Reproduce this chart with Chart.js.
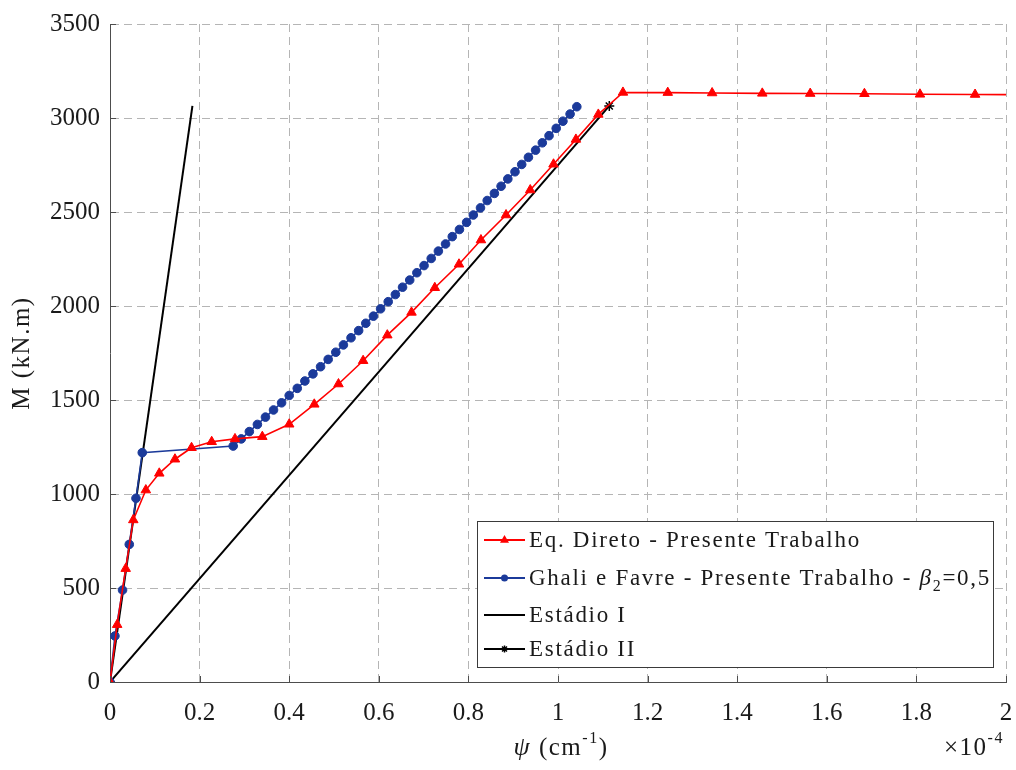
<!DOCTYPE html>
<html>
<head>
<meta charset="utf-8">
<script src="https://cdn.jsdelivr.net/npm/chart.js@4.4.1/dist/chart.umd.min.js"></script>
<style>
  html, body { margin: 0; background: #fff; }
  #wrap { width: 1016px; height: 770px; position: relative; }
</style>
</head>
<body>
<div id="wrap"><canvas id="c"></canvas></div>
<script>
  // curvature psi (x1e-4 cm^-1) vs. moment M (kN.m)
  const eqPsi = [0, 0.016, 0.035, 0.052, 0.080, 0.110, 0.145, 0.182, 0.227, 0.279, 0.340,
    0.400, 0.456, 0.510, 0.565, 0.619, 0.673, 0.725, 0.779, 0.828, 0.884, 0.938, 0.990,
    1.040, 1.090, 1.145, 1.245, 1.344, 1.456, 1.563, 1.684, 1.808, 1.931, 2.060];
  const eqM = [0, 305, 603, 862, 1021, 1110, 1185, 1246, 1278, 1293, 1305,
    1371, 1477, 1585, 1709, 1845, 1966, 2097, 2222, 2351, 2484, 2617, 2754,
    2886, 3019, 3136, 3135, 3133, 3131, 3130, 3129, 3126, 3125, 3124];

  const gfPsi = [0, 0.011, 0.028, 0.043, 0.058, 0.072,
    0.275, 0.293, 0.311, 0.329, 0.347, 0.365, 0.383, 0.400, 0.418, 0.435, 0.453, 0.470,
    0.487, 0.504, 0.521, 0.538, 0.555, 0.571, 0.588, 0.604, 0.621, 0.637, 0.653, 0.669,
    0.685, 0.701, 0.717, 0.733, 0.749, 0.764, 0.780, 0.796, 0.811, 0.827, 0.842, 0.858,
    0.873, 0.888, 0.904, 0.919, 0.934, 0.950, 0.965, 0.980, 0.996, 1.011, 1.027, 1.042];
  const gfM = [0, 245, 489, 732, 977, 1220,
    1255, 1293, 1332, 1370, 1409, 1447, 1485, 1524, 1562, 1601, 1639, 1677,
    1716, 1754, 1793, 1831, 1869, 1908, 1946, 1985, 2023, 2061, 2100, 2138,
    2177, 2215, 2253, 2292, 2330, 2369, 2407, 2445, 2484, 2522, 2561, 2599,
    2637, 2676, 2714, 2753, 2791, 2829, 2868, 2906, 2945, 2983, 3021, 3060];

  const e1Psi = [0, 0.184];
  const e1M = [0, 3064];
  const e2Psi = [0, 1.1145];
  const e2M = [0, 3064];

  const xTicks = [0, 0.2, 0.4, 0.6, 0.8, 1, 1.2, 1.4, 1.6, 1.8, 2];
  const yTicks = [0, 500, 1000, 1500, 2000, 2500, 3000, 3500];

  const RED = "#ff0000";
  const BLUE = "#1b3a9a";
  const BLACK = "#000000";
  const TXT = "#1a1a1a";
  const SERIF = "'Liberation Serif', 'Times New Roman', serif";

  const pts = (xs, ys) => xs.map((v, i) => ({ x: v, y: ys[i] }));

  // draw a run of text pieces left to right: {t, font, dy}
  function rich(ctx, parts, x, y) {
    parts.forEach((p) => {
      ctx.font = p.font;
      ctx.fillText(p.t, x, y + (p.dy || 0));
      x += ctx.measureText(p.t).width;
    });
    return x;
  }
  function richWidth(ctx, parts) {
    let w = 0;
    parts.forEach((p) => { ctx.font = p.font; w += ctx.measureText(p.t).width; });
    return w;
  }

  function marker(ctx, style, color, x, y, r) {
    ctx.save();
    ctx.fillStyle = color;
    ctx.strokeStyle = color;
    ctx.lineWidth = 1;
    if (style === "triangle") {
      ctx.beginPath();
      ctx.moveTo(x, y - r);
      ctx.lineTo(x + r * 0.9, y + r * 0.55);
      ctx.lineTo(x - r * 0.9, y + r * 0.55);
      ctx.closePath();
      ctx.fill();
    } else if (style === "circle") {
      ctx.beginPath();
      ctx.arc(x, y, r, 0, Math.PI * 2);
      ctx.fill();
    } else if (style === "star") {
      ctx.lineWidth = 1.5;
      ctx.beginPath();
      for (let k = 0; k < 4; k++) {
        const a = (k * Math.PI) / 4;
        ctx.moveTo(x - r * Math.cos(a), y - r * Math.sin(a));
        ctx.lineTo(x + r * Math.cos(a), y + r * Math.sin(a));
      }
      ctx.stroke();
    }
    ctx.restore();
  }

  // axis titles, inward ticks, exponent and the boxed legend
  const decor = {
    id: "decor",
    afterDraw(chart) {
      const { ctx, chartArea: a, scales: { x, y } } = chart;
      ctx.save();

      ctx.strokeStyle = "#4d4d4d";
      ctx.lineWidth = 1;
      ctx.beginPath();
      xTicks.forEach((v) => {
        const px = Math.round(x.getPixelForValue(v)) + 0.5;
        ctx.moveTo(px, a.bottom); ctx.lineTo(px, a.bottom - 6);
      });
      yTicks.forEach((v) => {
        const py = Math.round(y.getPixelForValue(v)) + 0.5;
        ctx.moveTo(a.left, py); ctx.lineTo(a.left + 6, py);
      });
      ctx.stroke();

      ctx.fillStyle = TXT;
      ctx.textBaseline = "middle";
      ctx.letterSpacing = "1.5px";

      // y title
      ctx.save();
      ctx.translate(22, (a.top + a.bottom) / 2);
      ctx.rotate(-Math.PI / 2);
      ctx.font = "25px " + SERIF;
      ctx.textAlign = "center";
      ctx.fillText("M (kN.m)", 0, 0);
      ctx.restore();

      // x title
      ctx.textAlign = "left";
      const xt = [
        { t: "ψ", font: "italic 26px " + SERIF },
        { t: " (cm", font: "25px " + SERIF },
        { t: "-1", font: "16px " + SERIF, dy: -9 },
        { t: ")", font: "25px " + SERIF },
      ];
      rich(ctx, xt, 561 - richWidth(ctx, xt) / 2, 748);

      const ex = [
        { t: "×10", font: "25px " + SERIF },
        { t: "-4", font: "16px " + SERIF, dy: -9 },
      ];
      rich(ctx, ex, 944, 748);

      // legend box
      const L = { x: 477, y: 521, w: 516, h: 146 };
      ctx.fillStyle = "#fff";
      ctx.fillRect(L.x, L.y, L.w, L.h);
      ctx.strokeStyle = "#3a3a3a";
      ctx.lineWidth = 1;
      ctx.strokeRect(L.x + 0.5, L.y + 0.5, L.w, L.h);

      ctx.letterSpacing = "1.7px";
      const f = "23px " + SERIF;
      const rows = [
        { y: 540, color: RED, mk: "triangle", r: 5,
          parts: [{ t: "Eq. Direto - Presente Trabalho", font: f }] },
        { y: 578, color: BLUE, mk: "circle", r: 3.5,
          parts: [
            { t: "Ghali e Favre - Presente Trabalho - ", font: f },
            { t: "β", font: "italic 23px " + SERIF },
            { t: "2", font: "16px " + SERIF, dy: 8 },
            { t: "=0,5", font: f },
          ] },
        { y: 615, color: BLACK, mk: null,
          parts: [{ t: "Estádio I", font: f }] },
        { y: 649, color: BLACK, mk: "star", r: 3.5,
          parts: [{ t: "Estádio II", font: f }] },
      ];
      rows.forEach((r) => {
        ctx.strokeStyle = r.color;
        ctx.lineWidth = 2;
        ctx.beginPath();
        ctx.moveTo(484, r.y); ctx.lineTo(525, r.y);
        ctx.stroke();
        if (r.mk) marker(ctx, r.mk, r.color, 504.5, r.y, r.r);
        ctx.fillStyle = TXT;
        rich(ctx, r.parts, 529, r.y + 1);
      });
      ctx.restore();
    },
  };

  const gridColor = (c) => (c.tick && c.tick.value === 0 ? "rgba(0,0,0,0)" : "#b5b5b5");

  new Chart(document.getElementById("c"), {
    type: "scatter",
    data: {
      datasets: [
        {
          label: "Eq. Direto - Presente Trabalho",
          data: pts(eqPsi, eqM),
          showLine: true,
          borderColor: RED, backgroundColor: RED,
          borderWidth: 1.6,
          pointStyle: "triangle", pointRadius: 5.5, pointBorderWidth: 1,
        },
        {
          label: "Ghali e Favre - Presente Trabalho",
          data: pts(gfPsi, gfM),
          showLine: true,
          borderColor: BLUE, backgroundColor: BLUE,
          borderWidth: 1.6,
          pointStyle: "circle", pointRadius: 4.3, pointBorderWidth: 1,
        },
        {
          label: "Estádio I",
          data: pts(e1Psi, e1M),
          showLine: true,
          borderColor: BLACK, backgroundColor: BLACK,
          borderWidth: 2, pointRadius: 0,
        },
        {
          label: "Estádio II",
          data: pts(e2Psi, e2M),
          showLine: true,
          borderColor: BLACK, backgroundColor: BLACK,
          borderWidth: 2,
          pointStyle: "star", pointRadius: 5, pointBorderWidth: 1.5,
        },
      ],
    },
    options: {
      responsive: true,
      maintainAspectRatio: false,
      animation: false,
      layout: { padding: { top: 24, right: 10, left: 0, bottom: 0 } },
      plugins: { legend: { display: false }, tooltip: { enabled: false } },
      scales: {
        x: {
          type: "linear", min: 0, max: 2,
          afterBuildTicks: (s) => { s.ticks = xTicks.map((v) => ({ value: v })); },
          afterFit: (s) => { s.height = 88; s.paddingLeft = 0; s.paddingRight = 0; },
          grid: { color: gridColor, lineWidth: 1, drawTicks: false },
          border: { display: true, color: "#4d4d4d", width: 1, dash: [8, 5] },
          ticks: {
            padding: 16, color: TXT, maxRotation: 0,
            font: { family: SERIF, size: 25 },
            callback: (v) => String(v),
          },
        },
        y: {
          type: "linear", min: 0, max: 3500,
          afterBuildTicks: (s) => { s.ticks = yTicks.map((v) => ({ value: v })); },
          afterFit: (s) => { s.width = 110; s.paddingTop = 0; s.paddingBottom = 0; },
          grid: { color: gridColor, lineWidth: 1, drawTicks: false },
          border: { display: true, color: "#4d4d4d", width: 1, dash: [8, 5] },
          ticks: {
            padding: 10, color: TXT,
            font: { family: SERIF, size: 25 },
            callback: (v) => String(v),
          },
        },
      },
    },
    plugins: [decor],
  });
</script>
</body>
</html>
